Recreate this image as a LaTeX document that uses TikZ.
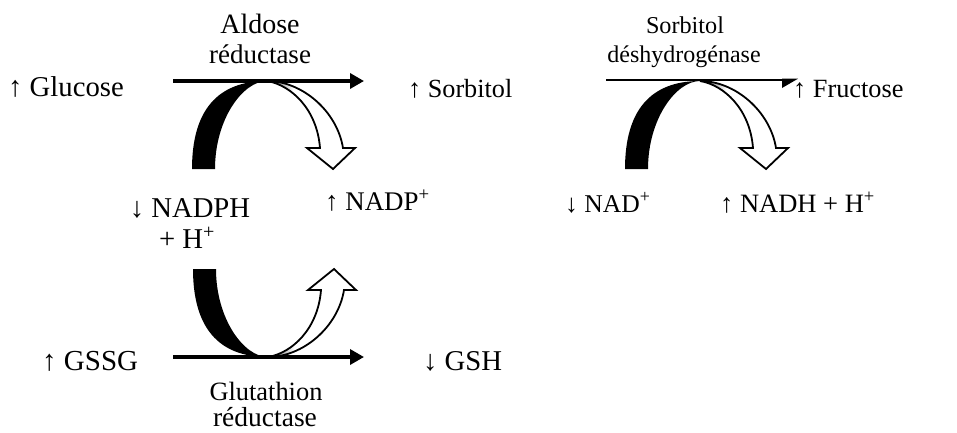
\documentclass[tikz,border=0pt]{standalone}
\usepackage{fontspec}
\setmainfont{Liberation Serif}
\usetikzlibrary{arrows.meta}
\newcommand{\fs}[1]{\fontsize{#1}{30}\selectfont}
\tikzset{
  lbl/.style={inner sep=0pt, font=\fs{27}},
  lblw/.style={lbl, anchor=base west},
  lblc/.style={lbl, anchor=base},
  rxn/.style={line width=3.4pt, -{Triangle[length=14pt,width=15pt]}},
  pics/cofactor/.style={code={
    \fill[black] (-75,88) .. controls (-75,30) and (-50,0) .. (0,0)
       .. controls (-24,0) and (-52,38) .. (-52,88) -- cycle;
    \fill[white]
       (0,0) .. controls (35,0) and (70,30) .. (76,67) -- (88,67) -- (66,88)
       -- (40,67) -- (53,67) .. controls (50,28) and (24,4) .. (0,0) -- cycle;
    \begin{scope}
      \clip (0,0) .. controls (35,0) and (70,30) .. (76,67) -- (53,67)
         .. controls (50,28) and (24,4) .. (0,0) -- cycle;
      \shade[left color=black!70, right color=white] (0,-3) rectangle (26,30);
    \end{scope}
    \draw[line width=1.8pt, line join=miter]
       (0,0) .. controls (35,0) and (70,30) .. (76,67) -- (88,67) -- (66,88)
       -- (40,67) -- (53,67) .. controls (50,28) and (24,4) .. (0,0) -- cycle;
  }}
}
\begin{document}
\begin{tikzpicture}[x=1pt,y=-1pt]
\useasboundingbox (0,0) rectangle (957,432);
% top-left reaction
\node[lblw, font=\fs{28.7}] (glc) at (8,96) {↑ Glucose};
\node[lblc, font=\fs{28}] (ar1) at (260,33) {Aldose};
\node[lblc, font=\fs{27}] (ar2) at (260,63) {réductase};
\node[lblw, font=\fs{26.2}] (sor) at (408,97) {↑ Sorbitol};
\coordinate (a1s) at (173,81);
\coordinate (a1e) at (364,81);
\pic at (267,81) {cofactor};
\draw[rxn] (a1s) -- (a1e);
\node[lblc, font=\fs{28.7}] (nadph) at (190,217) {↓ NADPH};
\node[lblc, font=\fs{28.7}] (nadphb) at (187,248) {+ H\textsuperscript{+}};
\node[lblw, font=\fs{26.9}] (nadp) at (325,210) {↑ NADP\textsuperscript{+}};
% top-right reaction
\node[lblc, font=\fs{24.2}] (sd1) at (685,33) {Sorbitol};
\node[lblc, font=\fs{24}] (sd2) at (684,62) {déshydrogénase};
\node[lblw, font=\fs{26.3}] (fru) at (793,97) {↑ Fructose};
\coordinate (a2s) at (606,80);
\coordinate (a2e) at (782,80);
\coordinate (a2t) at (798,80);
\pic at (700,81) {cofactor};
\draw[line width=2.6pt] (a2s) -- (a2e);
\fill ([yshift=1.3pt]a2e) -- ([yshift=1.3pt]a2t) -- ([yshift=-8pt]a2e) -- cycle;
\node[lblw, font=\fs{25.6}] (nad) at (565,212) {↓ NAD\textsuperscript{+}};
\node[lblw, font=\fs{26.5}] (nadh) at (720,212) {↑ NADH + H\textsuperscript{+}};
% bottom reaction
\node[lblw, font=\fs{29}] (gssg) at (42,370) {↑ GSSG};
\node[lblw, font=\fs{28.7}] (gsh) at (423,370) {↓ GSH};
\node[lblc, font=\fs{26.4}] (gr1) at (266,400) {Glutathion};
\node[lblc, font=\fs{27.5}] (gr2) at (265,426) {réductase};
\coordinate (a3s) at (173,357);
\coordinate (a3e) at (364,357);
\pic[yscale=-1] at (268,357) {cofactor};
\draw[rxn] (a3s) -- (a3e);
\end{tikzpicture}
\end{document}
